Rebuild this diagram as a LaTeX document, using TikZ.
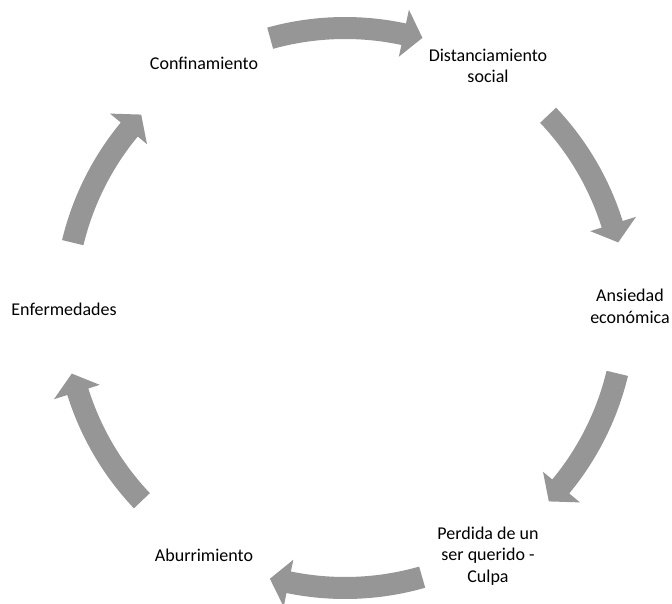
\documentclass[tikz,border=0pt]{standalone}
\usepackage{fontspec}
\setmainfont{Carlito}
\definecolor{arrowgray}{RGB}{150,150,150}
\begin{document}
\begin{tikzpicture}[x=1pt,y=1pt,
  label/.style={align=center,inner sep=0pt,font=\fontsize{18}{21.5}\selectfont}]
\useasboundingbox (0,0) rectangle (672,-604);
\coordinate (hub) at (345,-308);

\foreach \tail/\tip in {105.5/74, 43.5/13.5, -13.5/-43.5, -74/-105.5, -136.5/-166.5, 166.5/136.5}{
  \pgfmathsetmacro\base{\tip+3.9}
  \fill [arrowgray,shift={(hub)}] (\tail:291) arc [start angle=\tail, end angle=\base, radius=291]
    -- (\base:305) -- (\tip:281) -- (\base:257) -- (\base:269)
    arc [start angle=\base, end angle=\tail, radius=269] -- cycle;
}

\node [label] (confin) at (204,-63.8) {Confinamiento};
\node [label] (distan) at (488,-66) {Distanciamiento\\social};
\node [label] (ansied) at (630,-306.5) {Ansiedad\\económica};
\node [label] (perdid) at (488,-555.7) {Perdida de un\\ser querido -\\Culpa};
\node [label] (aburri) at (204,-555) {Aburrimiento};
\node [label] (enferm) at (64,-309.5) {Enfermedades};
\end{tikzpicture}
\end{document}
